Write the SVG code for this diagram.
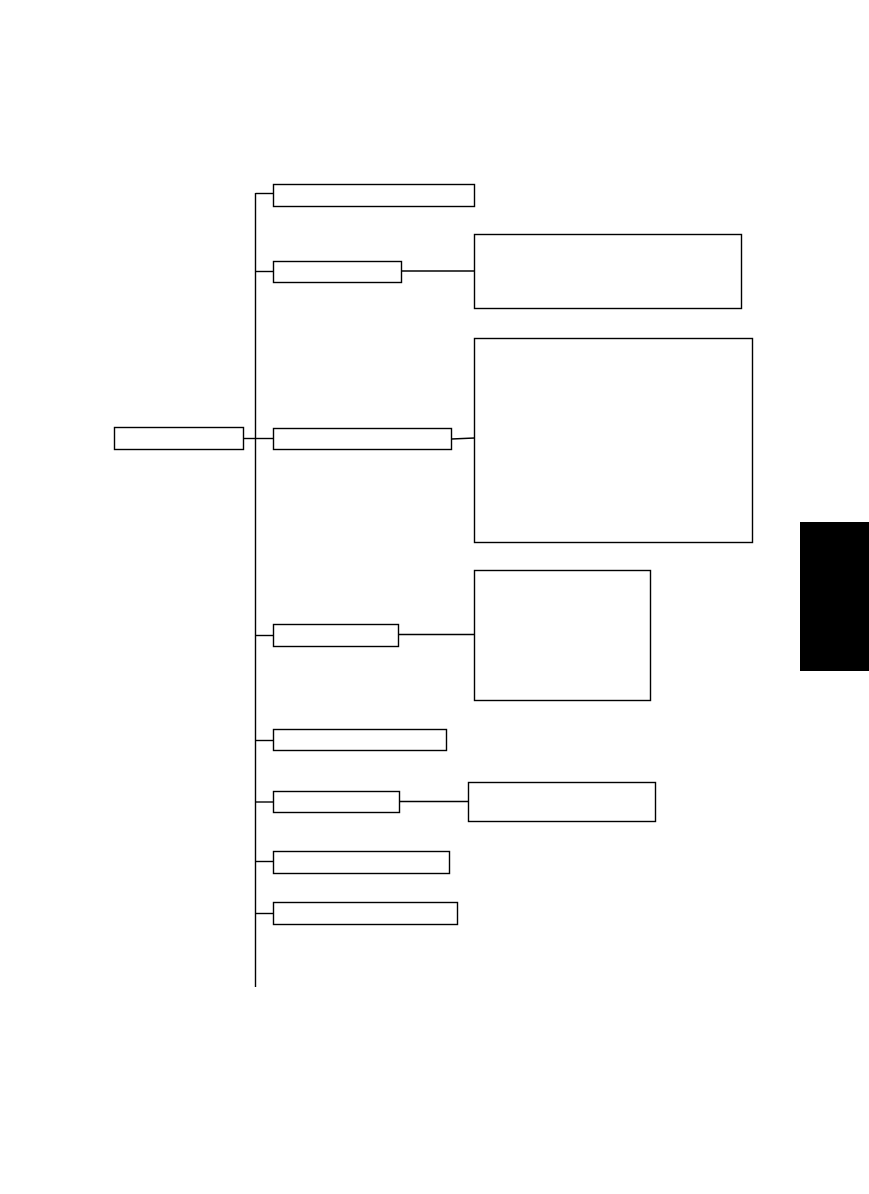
<svg xmlns="http://www.w3.org/2000/svg" width="869" height="1194" viewBox="0 0 869 1194">
<style>
.n{fill:#fff;stroke:#000;stroke-width:1.4}
.c{fill:none;stroke:#000;stroke-width:1.4}
</style>
<rect width="869" height="1194" fill="#fff"/>
<g id="connectors">
<line class="c" x1="255.5" y1="193" x2="255.5" y2="987"/>
<line class="c" x1="255.5" y1="193.5" x2="274" y2="193.5"/>
<line class="c" x1="255.5" y1="271.5" x2="274" y2="271.5"/>
<line class="c" x1="401.5" y1="271" x2="474.5" y2="271"/>
<line class="c" x1="243.5" y1="438.5" x2="274" y2="438.5"/>
<line class="c" x1="451.5" y1="439" x2="474.5" y2="438"/>
<line class="c" x1="255.5" y1="635.5" x2="274" y2="635.5"/>
<line class="c" x1="398.5" y1="634.5" x2="474.5" y2="634.5"/>
<line class="c" x1="255.5" y1="740.5" x2="274" y2="740.5"/>
<line class="c" x1="255.5" y1="802" x2="274" y2="802"/>
<line class="c" x1="399.5" y1="801.5" x2="468.5" y2="801.5"/>
<line class="c" x1="255.5" y1="861.5" x2="274" y2="861.5"/>
<line class="c" x1="255.5" y1="913.5" x2="274" y2="913.5"/>
</g>
<g id="root"><rect class="n" x="114.5" y="427.5" width="129" height="22"/></g>
<g id="nodeA"><rect class="n" x="273.5" y="184.5" width="201" height="22"/></g>
<g id="nodeB"><rect class="n" x="273.5" y="261.5" width="128" height="21"/></g>
<g id="nodeB2"><rect class="n" x="474.5" y="234.5" width="267" height="74"/></g>
<g id="nodeC"><rect class="n" x="273.5" y="428.5" width="178" height="21"/></g>
<g id="nodeC2"><rect class="n" x="474.5" y="338.5" width="278" height="204"/></g>
<g id="nodeD"><rect class="n" x="273.5" y="624.5" width="125" height="22"/></g>
<g id="nodeD2"><rect class="n" x="474.5" y="570.5" width="176" height="130"/></g>
<g id="nodeE"><rect class="n" x="273.5" y="729.5" width="173" height="21"/></g>
<g id="nodeF"><rect class="n" x="273.5" y="791.5" width="126" height="21"/></g>
<g id="nodeF2"><rect class="n" x="468.5" y="782.5" width="187" height="39"/></g>
<g id="nodeG"><rect class="n" x="273.5" y="851.5" width="176" height="22"/></g>
<g id="nodeH"><rect class="n" x="273.5" y="902.5" width="184" height="22"/></g>
<rect x="800" y="522" width="69" height="149" fill="#000"/>
</svg>
